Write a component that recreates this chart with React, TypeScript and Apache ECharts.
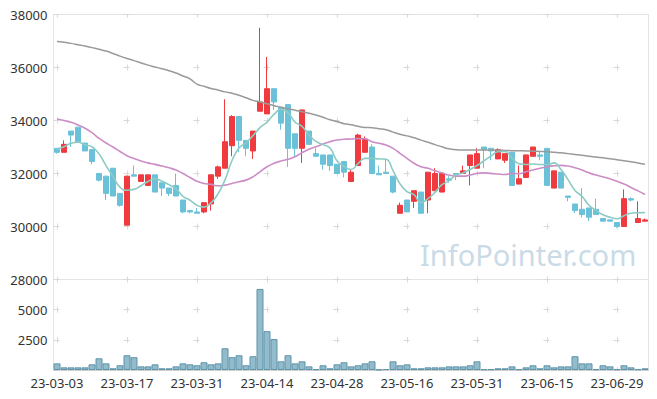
import React, { useEffect, useRef } from "react";
import * as echarts from "echarts";

const dates: string[] = [
  "23-03-03", "23-03-06", "23-03-07", "23-03-08", "23-03-09", "23-03-10", "23-03-13", "23-03-14", "23-03-15", "23-03-16",
  "23-03-17", "23-03-20", "23-03-21", "23-03-22", "23-03-23", "23-03-24", "23-03-27", "23-03-28", "23-03-29", "23-03-30",
  "23-03-31", "23-04-03", "23-04-04", "23-04-05", "23-04-06", "23-04-07", "23-04-10", "23-04-11", "23-04-12", "23-04-13",
  "23-04-14", "23-04-17", "23-04-18", "23-04-19", "23-04-20", "23-04-21", "23-04-24", "23-04-25", "23-04-26", "23-04-27",
  "23-04-28", "23-05-02", "23-05-03", "23-05-04", "23-05-08", "23-05-09", "23-05-10", "23-05-11", "23-05-12", "23-05-15",
  "23-05-16", "23-05-17", "23-05-18", "23-05-19", "23-05-22", "23-05-23", "23-05-24", "23-05-25", "23-05-26", "23-05-30",
  "23-05-31", "23-06-01", "23-06-02", "23-06-05", "23-06-07", "23-06-08", "23-06-09", "23-06-12", "23-06-13", "23-06-14",
  "23-06-15", "23-06-16", "23-06-19", "23-06-20", "23-06-21", "23-06-22", "23-06-23", "23-06-26", "23-06-27", "23-06-28",
  "23-06-29", "23-06-30", "23-07-03", "23-07-04", "23-07-05",
];

const opens = [
  32950, 32800, 33600, 33750, 33150, 32900, 32000, 31900, 32200, 31250,
  30050, 31950, 31700, 31550, 31950, 31650, 31450, 31550, 31000, 30600,
  30550, 30550, 30850, 31900, 32200, 33050, 34150, 33250, 32850, 34350,
  34250, 35200, 34500, 34600, 33500, 32950, 33600, 32750, 32700, 32700,
  32350, 32450, 31700, 32300, 32800, 33000, 32000, 32050, 31900, 30500,
  31000, 30950, 31300, 31000, 31350, 31300, 31800, 32000, 32000, 32300,
  32200, 33000, 32950, 32550, 32500, 32800, 31600, 31850, 32650, 32700,
  32950, 31450, 32050, 31150, 30850, 30650, 30700, 30650, 30300, 30250,
  30150, 30000, 31050, 30150, 30200,
];
const closes = [
  32800, 33100, 33450, 33200, 32850, 32450, 31750, 31250, 31150, 30800,
  31900, 31900, 31950, 31950, 31300, 31450, 31250, 31150, 30550, 30550,
  30500, 30900, 31950, 32250, 33200, 34150, 33250, 32950, 33600, 34700,
  35200, 34700, 33900, 32950, 32950, 34400, 33100, 32650, 32350, 32300,
  32000, 32050, 32050, 33450, 33300, 32000, 31950, 32000, 31300, 30800,
  30550, 31350, 30500, 32050, 32000, 32000, 31750, 31950, 32100, 32700,
  32750, 32900, 32850, 32900, 32750, 31550, 31800, 32700, 33000, 32650,
  31550, 32100, 31450, 31100, 30600, 30450, 30350, 30450, 30200, 30200,
  30000, 31050, 31000, 30300, 30250,
];
const lows = [
  32750, 32800, 33000, 33150, 32850, 32350, 31700, 31000, 31150, 30750,
  30050, 31900, 31700, 31550, 31300, 31150, 31150, 31150, 30500, 30500,
  30500, 30500, 30600, 31800, 32200, 32650, 32800, 32650, 32550, 34350,
  34250, 34400, 33650, 32250, 32650, 32400, 33100, 32650, 32150, 32100,
  32000, 31850, 31700, 32300, 32800, 32000, 31950, 32000, 31250, 30500,
  30550, 30700, 30500, 30500, 31350, 31300, 31650, 31750, 32000, 31550,
  32200, 32200, 32500, 32550, 32400, 31550, 31600, 31850, 32650, 32500,
  31550, 31450, 31450, 30950, 30500, 30350, 30200, 30450, 30200, 30200,
  29950, 30000, 30950, 30150, 30200,
];
const highs = [
  32950, 33250, 33600, 33750, 33150, 32900, 32000, 31900, 32200, 31250,
  31900, 32300, 31950, 31950, 31950, 31650, 31450, 32000, 31000, 30600,
  30700, 30900, 31950, 32300, 34800, 34200, 34150, 33250, 33600, 37500,
  36400, 35200, 34500, 34600, 33500, 34400, 33600, 32950, 32700, 32700,
  32350, 32450, 32150, 33500, 33400, 33100, 32300, 32550, 31900, 30900,
  31000, 31350, 31300, 32050, 32200, 32000, 31900, 32000, 32300, 32700,
  32950, 33000, 32950, 32950, 32750, 32800, 32300, 32700, 33000, 32850,
  32950, 32100, 32050, 31150, 30850, 31450, 30700, 31050, 30300, 30250,
  30150, 31400, 31100, 30950, 30300,
];
const volumes = [
  550, 220, 220, 220, 220, 470, 970, 550, 140, 390,
  1220, 1060, 300, 300, 470, 140, 140, 300, 550, 470,
  390, 640, 470, 550, 1800, 1060, 1220, 390, 1140, 6720,
  3220, 2560, 720, 1220, 550, 720, 300, 60, 390, 140,
  470, 640, 300, 390, 550, 720, 30, 80, 720, 390,
  470, 140, 140, 220, 220, 220, 300, 300, 300, 390,
  720, 60, 60, 140, 140, 300, 60, 220, 390, 140,
  390, 220, 300, 300, 1140, 550, 550, 60, 390, 300,
  60, 390, 220, 60, 140,
];
const ma5 = [
  32920, 33010, 33140, 33180, 33080, 33010, 32740, 32300, 31890, 31480,
  31370, 31400, 31540, 31700, 31800, 31710, 31580, 31420, 31140, 30990,
  30800, 30730, 30890, 31230, 31760, 32490, 32960, 33160, 33430, 33730,
  33940, 34230, 34420, 34290, 33940, 33780, 33460, 33210, 33090, 32960,
  32480, 32270, 32150, 32370, 32570, 32570, 32550, 32540, 32110, 31610,
  31320, 31200, 30900, 31050, 31290, 31580, 31720, 31950, 32020, 32150,
  32300, 32480, 32660, 32820, 32830, 32590, 32370, 32340, 32360, 32340,
  32340, 32400, 32150, 31770, 31360, 31140, 30800, 30610, 30440, 30350,
  30290, 30410, 30500, 30520, 30525,
];
const ma20 = [
  34060, 34000, 33935, 33830, 33710, 33540, 33330, 33150, 33000, 32830,
  32670, 32570, 32470, 32400, 32345, 32280, 32215, 32130, 32000, 31850,
  31710, 31625, 31590, 31535, 31560, 31625, 31690, 31750, 31875, 32065,
  32255, 32385, 32470, 32535, 32635, 32785, 32915, 33010, 33115, 33200,
  33265, 33290, 33300, 33320, 33310, 33200, 33140, 33075, 32950, 32760,
  32570, 32385, 32255, 32195, 32100, 32025, 31940, 31900, 31900, 31940,
  32005, 32025, 32005, 31980, 31965, 32005, 31990, 32065, 32130, 32195,
  32255, 32290, 32305, 32280, 32215, 32130, 32025, 31940, 31875, 31800,
  31710, 31600, 31475, 31345, 31210,
];
const ma60 = [
  36980, 36950, 36910, 36860, 36810, 36750, 36690, 36620, 36530, 36430,
  36340, 36260, 36170, 36090, 36020, 35950, 35880, 35790, 35680, 35570,
  35370, 35290, 35210, 35150, 35080, 35030, 34950, 34860, 34760, 34700,
  34630, 34560, 34500, 34440, 34390, 34330, 34270, 34210, 34120, 34030,
  33960, 33880, 33840, 33780, 33740, 33730, 33690, 33650, 33560, 33480,
  33420, 33350, 33260, 33180, 33090, 33010, 32930, 32900, 32890, 32890,
  32890, 32890, 32880, 32880, 32870, 32860, 32860, 32850, 32840, 32830,
  32820, 32800, 32780, 32750, 32720, 32690, 32650, 32620, 32590, 32560,
  32520, 32480, 32440, 32400, 32350,
];

const priceMin = 28000;
const priceMax = 38000;
const priceStep = 2000;
const volMin = 0;
const volMax = 7500;
const volStep = 2500;
const volLabels = [2500, 5000];

export default function App() {
  const ref = useRef<HTMLDivElement>(null);
  useEffect(() => {
    document.body.style.margin = "0";
    const chart = echarts.init(ref.current!, null, { renderer: "svg" });
    const font = "'Noto Sans', sans-serif";
    const cross = "#d8d8d8";
    const candle = dates.map((_, i) => [opens[i], closes[i], lows[i], highs[i]]);
    const labelStyle = { fontSize: 13, color: "#333", fontFamily: font };
    chart.setOption({
      animation: false,
      grid: [
        { left: 53.5, right: 8.5, top: 14.5, height: 265, show: true, borderColor: "#e4e4e4", borderWidth: 1 },
        { left: 53.5, right: 8.5, top: 279.5, height: 90.5, show: true, borderColor: "#e4e4e4", borderWidth: 1 },
      ],
      xAxis: [
        {
          type: "category", gridIndex: 0, data: dates, boundaryGap: true,
          axisLine: { show: false }, axisTick: { show: false }, axisLabel: { show: false },
          splitLine: { show: true, interval: 9, alignWithLabel: true, lineStyle: { color: cross, width: 1, type: [6, 47], dashOffset: 3 } },
        },
        {
          type: "category", gridIndex: 1, data: dates, boundaryGap: true,
          axisLine: { show: true, lineStyle: { color: "#d0d0d0" } }, axisTick: { show: false },
          axisLabel: { ...labelStyle, interval: 9, margin: 6 },
          splitLine: { show: true, interval: 9, alignWithLabel: true, lineStyle: { color: cross, width: 1, type: [6, 24.2], dashOffset: 3 } },
        },
      ],
      yAxis: [
        {
          type: "value", gridIndex: 0, min: priceMin, max: priceMax, interval: priceStep,
          axisLine: { show: false }, axisTick: { show: false },
          axisLabel: { ...labelStyle, margin: 6, formatter: (v: number) => String(v) },
          splitLine: { show: true, lineStyle: { color: cross, width: 1, type: [6, 64], dashOffset: 0 } },
        },
        {
          type: "value", gridIndex: 1, min: volMin, max: volMax, interval: volStep,
          axisLine: { show: false }, axisTick: { show: false },
          axisLabel: { ...labelStyle, margin: 6, formatter: (v: number) => (volLabels.includes(v) ? String(v) : "") },
          splitLine: { show: true, lineStyle: { color: cross, width: 1, type: [6, 64], dashOffset: 0 } },
        },
      ],
      graphic: [
        {
          type: "text", left: 420, top: 240, z: 0, silent: true,
          style: { text: "InfoPointer.com", fill: "#c9dbe7", font: "29px 'Noto Sans', sans-serif" },
        },
      ],
      series: [
        {
          type: "candlestick", xAxisIndex: 0, yAxisIndex: 0, data: candle, barWidth: 5,
          itemStyle: { color: "#ef3a3f", color0: "#6bc1d8", borderColor: "#ef3a3f", borderColor0: "#6bc1d8", borderWidth: 1 },
        },
        {
          type: "line", xAxisIndex: 0, yAxisIndex: 0, data: ma60, smooth: true, symbol: "none",
          lineStyle: { color: "#9a9a9a", width: 1.5 },
        },
        {
          type: "line", xAxisIndex: 0, yAxisIndex: 0, data: ma20, smooth: true, symbol: "none",
          lineStyle: { color: "#cc8cc6", width: 1.6 },
        },
        {
          type: "line", xAxisIndex: 0, yAxisIndex: 0, data: ma5, smooth: true, symbol: "none",
          lineStyle: { color: "#8ccbc3", width: 1.6 },
        },
        {
          type: "bar", xAxisIndex: 1, yAxisIndex: 1, data: volumes, barCategoryGap: "0%",
          itemStyle: { color: "#92bccc", borderColor: "#5e93a9", borderWidth: 1 },
        },
      ],
    });
    return () => chart.dispose();
  }, []);
  return <div ref={ref} style={{ width: 657, height: 399 }} />;
}
